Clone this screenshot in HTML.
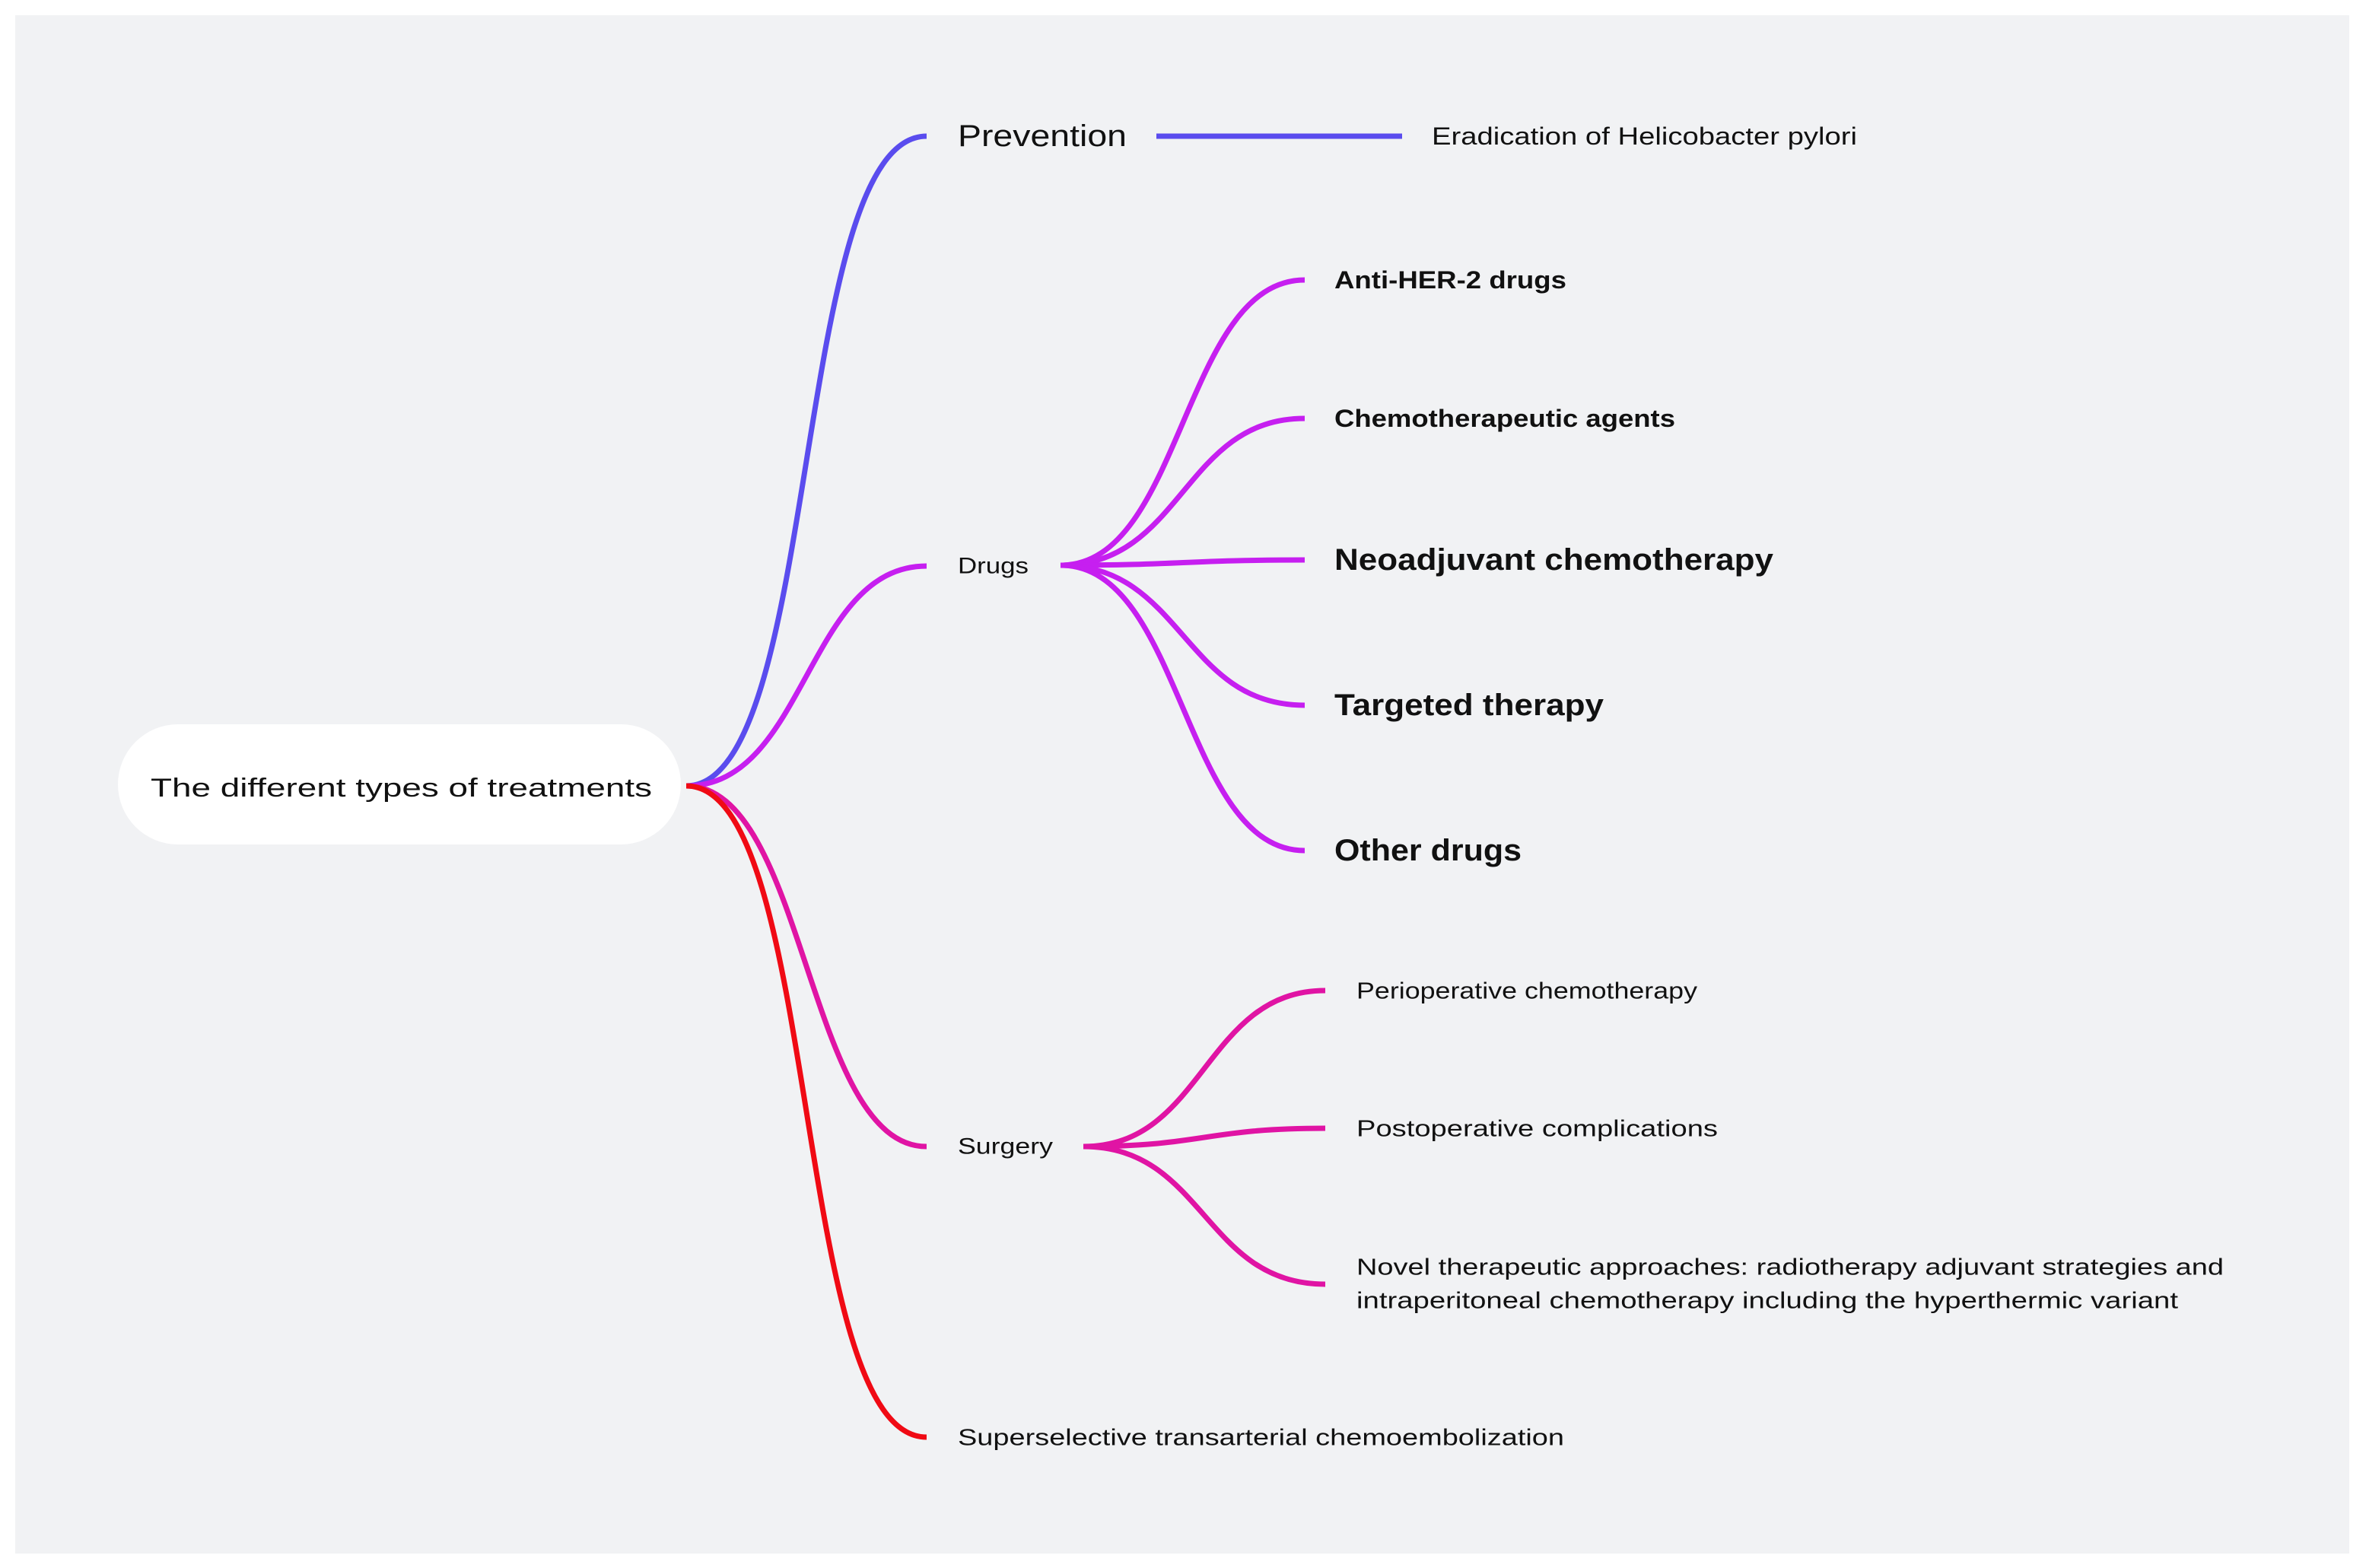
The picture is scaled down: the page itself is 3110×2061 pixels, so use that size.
<!DOCTYPE html>
<html><head><meta charset="utf-8"><style>
html,body{margin:0;padding:0;background:#fff;}
svg{display:block;}
text{font-family:"Liberation Sans",sans-serif;fill:#111;}
</style></head><body>
<svg width="3110" height="2061" viewBox="0 0 3110 2061" xmlns="http://www.w3.org/2000/svg">
<rect x="0" y="0" width="3110" height="2061" fill="#ffffff"/>
<rect x="20" y="20" width="3068" height="2022" fill="#f1f2f4"/>
<rect x="155" y="952" width="740" height="158" rx="79" fill="#ffffff"/>
<text x="198" y="1047" font-size="34" textLength="659" lengthAdjust="spacingAndGlyphs">The different types of treatments</text>
<g fill="none" stroke-width="7" stroke-linecap="butt">
<path d="M902 1033 C1080 1033 1040 179 1218 179" stroke="#5a4cee"/>
<path d="M902 1033 C1060 1033 1060 744 1218 744" stroke="#c61ff0"/>
<path d="M902 1033 C1060 1033 1060 1507 1218 1507" stroke="#e014a4"/>
<path d="M902 1033 C1080 1033 1040 1889 1218 1889" stroke="#f00a14"/>
<path d="M1520 179 L1843 179" stroke="#5a4cee"/>
<g stroke="#c61ff0">
<path d="M1394 743 C1555 743 1555 368 1715 368"/>
<path d="M1394 743 C1555 743 1555 550 1715 550"/>
<path d="M1394 743 C1555 743 1555 736 1715 736"/>
<path d="M1394 743 C1555 743 1555 927 1715 927"/>
<path d="M1394 743 C1555 743 1555 1118 1715 1118"/>
</g>
<g stroke="#e014a4">
<path d="M1424 1507 C1583 1507 1583 1302 1742 1302"/>
<path d="M1424 1507 C1583 1507 1583 1483 1742 1483"/>
<path d="M1424 1507 C1583 1507 1583 1688 1742 1688"/>
</g>
</g>
<g dominant-baseline="central">
<text x="1259" y="179" font-size="40" textLength="222" lengthAdjust="spacingAndGlyphs">Prevention</text>
<text x="1882" y="179" font-size="32" textLength="559" lengthAdjust="spacingAndGlyphs" fill="#222">Eradication of Helicobacter pylori</text>
<text x="1259" y="744" font-size="30" textLength="93" lengthAdjust="spacingAndGlyphs">Drugs</text>
<text x="1754" y="368" font-size="32" font-weight="bold" textLength="305" lengthAdjust="spacingAndGlyphs">Anti-HER-2 drugs</text>
<text x="1754" y="550" font-size="32" font-weight="bold" textLength="448" lengthAdjust="spacingAndGlyphs">Chemotherapeutic agents</text>
<text x="1754" y="736" font-size="40" font-weight="bold" textLength="577" lengthAdjust="spacingAndGlyphs">Neoadjuvant chemotherapy</text>
<text x="1754" y="927" font-size="40" font-weight="bold" textLength="354" lengthAdjust="spacingAndGlyphs">Targeted therapy</text>
<text x="1754" y="1118" font-size="40" font-weight="bold" textLength="246" lengthAdjust="spacingAndGlyphs">Other drugs</text>
<text x="1259" y="1507" font-size="30" textLength="125" lengthAdjust="spacingAndGlyphs">Surgery</text>
<text x="1783" y="1302" font-size="31" textLength="448" lengthAdjust="spacingAndGlyphs" fill="#222">Perioperative chemotherapy</text>
<text x="1783" y="1483" font-size="31" textLength="475" lengthAdjust="spacingAndGlyphs" fill="#222">Postoperative complications</text>
<text x="1783" y="1665" font-size="31" textLength="1140" lengthAdjust="spacingAndGlyphs" fill="#222">Novel therapeutic approaches: radiotherapy adjuvant strategies and</text>
<text x="1783" y="1709" font-size="31" textLength="1080" lengthAdjust="spacingAndGlyphs" fill="#222">intraperitoneal chemotherapy including the hyperthermic variant</text>
<text x="1259" y="1889" font-size="31" textLength="797" lengthAdjust="spacingAndGlyphs" fill="#222">Superselective transarterial chemoembolization</text>
</g>
</svg>
</body></html>
